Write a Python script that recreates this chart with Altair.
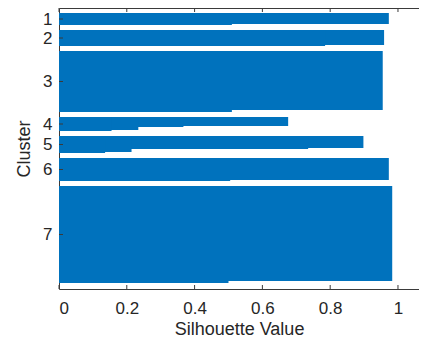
import altair as alt
import pandas as pd

# ---- data (silhouette values, run-length per cluster) ----
clusters = [1, 2, 3, 4, 5, 6, 7]
seg_values = [
    [0.973, 0.51],
    [0.959, 0.785],
    [0.955, 0.51],
    [0.676, 0.367, 0.234, 0.155],
    [0.898, 0.735, 0.214, 0.136],
    [0.973, 0.505],
    [0.983, 0.50],
]
seg_counts = [
    [11, 1],
    [15, 1],
    [59, 2],
    [9, 1, 3, 1],
    [12, 1, 3, 1],
    [22, 1],
    [95, 2],
]
x_ticks = [0, 0.2, 0.4, 0.6, 0.8, 1.0]

GAP = 5
MARGIN_TOP = 5
MARGIN_BOTTOM = 6

rows = []
centers = []
pos = MARGIN_TOP
for c, vals, cnts in zip(clusters, seg_values, seg_counts):
    start = pos
    end = start
    for v, n in zip(vals, cnts):
        end += n
        rows.append(dict(cluster=c, v=v, y0=start, y1=end))
    centers.append(start + sum(cnts) / 2)
    pos = end + GAP
total = pos - GAP + MARGIN_BOTTOM

df = pd.DataFrame(rows)
tdf = pd.DataFrame({"t": x_ticks})
cdf = pd.DataFrame({"c": centers, "cluster": clusters})

W, H = 360, 281
BLUE = "#0072BD"
AX = "#3a3a3a"
TXT = "#262626"
FONT = "Liberation Sans"

xscale = alt.Scale(domain=[0, 1.062], nice=False, zero=False)
yscale = alt.Scale(domain=[0, total], reverse=True, nice=False, zero=False)

label_expr = "indexof(" + str(centers) + ", datum.value) + 1"

bars = alt.Chart(df).mark_rect(color=BLUE).encode(
    x=alt.X("v:Q", scale=xscale, axis=alt.Axis(
        orient="bottom", values=x_ticks, format="~g", tickSize=0, labelPadding=11,
        title="Silhouette Value", titlePadding=4, domainColor=AX, grid=False,
        labelFontSize=17, titleFontSize=18, labelColor=TXT, titleColor=TXT,
        labelFont=FONT, titleFont=FONT, titleFontWeight="normal")),
    x2=alt.datum(0),
    y=alt.Y("y0:Q", scale=yscale, axis=alt.Axis(
        values=centers, labelExpr=label_expr, tickSize=0, labelPadding=7,
        title="Cluster", titlePadding=9, domainColor=AX, grid=False,
        labelFontSize=17, titleFontSize=18, labelColor=TXT, titleColor=TXT,
        labelFont=FONT, titleFont=FONT, titleFontWeight="normal")),
    y2="y1:Q",
)

top_ticks = alt.Chart(tdf).mark_rule(color=AX, strokeWidth=1).encode(
    x=alt.X("t:Q", scale=xscale, axis=alt.Axis(
        orient="top", labels=False, ticks=False, title=None, domainColor=AX, grid=False)),
    y=alt.value(0),
    y2=alt.value(4),
)

bottom_ticks = alt.Chart(tdf).mark_rule(color=AX, strokeWidth=1).encode(
    x=alt.X("t:Q", scale=xscale, axis=None),
    y=alt.value(H - 4),
    y2=alt.value(H),
)

y_ticks = alt.Chart(cdf).mark_rule(color=AX, strokeWidth=1).encode(
    y=alt.Y("c:Q", scale=yscale, axis=None),
    x=alt.value(0),
    x2=alt.value(4),
)

chart = alt.layer(bars, top_ticks, bottom_ticks, y_ticks).resolve_axis(
    x="independent", y="independent"
).properties(
    width=W, height=H,
    autosize=alt.AutoSizeParams(type="none"),
    padding={"left": 51, "top": 0, "right": 0, "bottom": 48},
).configure_view(stroke=None).configure(background="white")

chart.save("out.html", embed_options={"renderer": "svg", "actions": False})
